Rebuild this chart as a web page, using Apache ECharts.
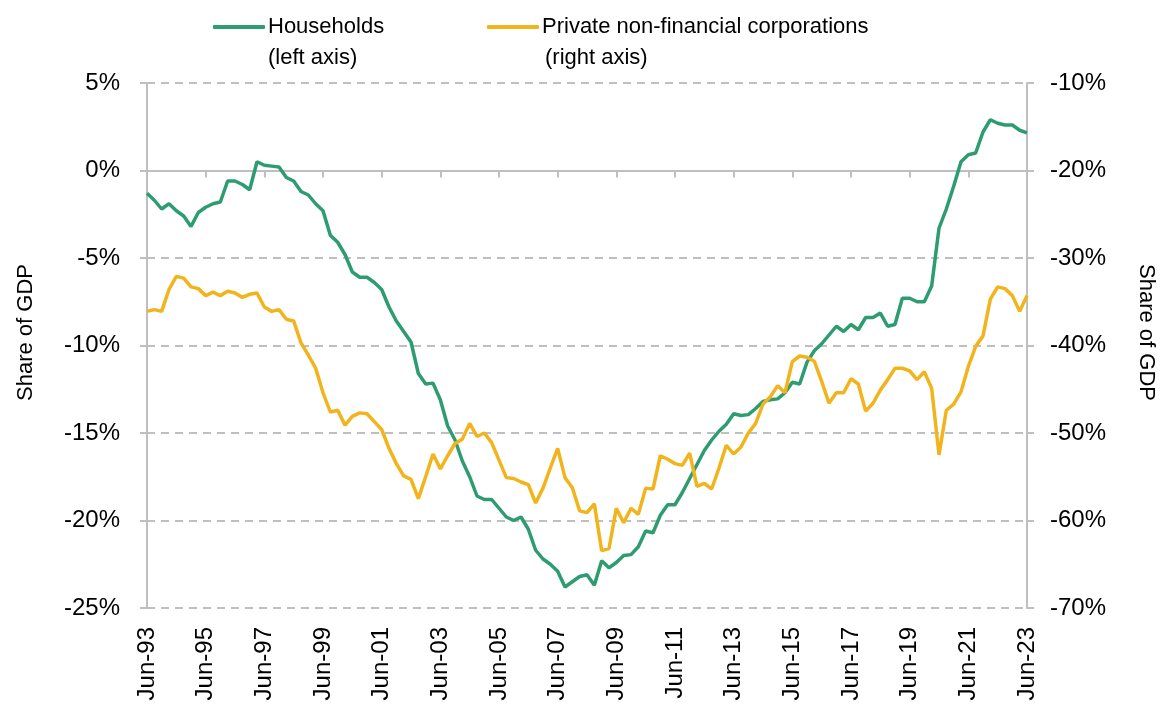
<!DOCTYPE html>
<html>
<head>
<meta charset="utf-8">
<script src="https://cdn.jsdelivr.net/npm/echarts@6/dist/echarts.min.js"></script>
<style>
  * { margin: 0; padding: 0; }
  html, body { background: #fff; }
</style>
</head>
<body>
<div id="chart" style="width: 1162px; height: 704px;"></div>
<script>
  // quarterly, Jun-93 .. Jun-23
  const quarterNames = ['Jun', 'Sep', 'Dec', 'Mar']
  const categories = []
  for (let i = 0; i <= 120; i++) {
    const yr = (1993 + Math.floor((i + 1) / 4)) % 100
    categories.push(quarterNames[i % 4] + '-' + String(yr).padStart(2, '0'))
  }

  // Households, % of GDP (left axis)
  const households = [
    -1.3, -1.7, -2.2, -1.9, -2.3, -2.6, -3.2, -2.4, -2.1, -1.9,
    -1.8, -0.6, -0.6, -0.8, -1.1, 0.5, 0.3, 0.25, 0.2, -0.4,
    -0.6, -1.2, -1.4, -1.9, -2.3, -3.7, -4.1, -4.8, -5.8, -6.1,
    -6.1, -6.4, -6.8, -7.8, -8.6, -9.2, -9.8, -11.6, -12.2, -12.15,
    -13.1, -14.6, -15.4, -16.6, -17.5, -18.6, -18.8, -18.8, -19.3, -19.8,
    -20.0, -19.8, -20.5, -21.7, -22.2, -22.5, -22.9, -23.8, -23.5, -23.2,
    -23.1, -23.7, -22.3, -22.7, -22.4, -22.0, -21.95, -21.5, -20.6, -20.7,
    -19.7, -19.1, -19.1, -18.4, -17.6, -16.8, -16.0, -15.4, -14.9, -14.5,
    -13.9, -14.0, -13.95, -13.6, -13.2, -13.1, -13.05, -12.7, -12.1, -12.2,
    -10.95, -10.3, -9.9, -9.4, -8.9, -9.2, -8.8, -9.1, -8.4, -8.4,
    -8.15, -8.9, -8.8, -7.3, -7.3, -7.5, -7.5, -6.6, -3.3, -2.2,
    -0.9, 0.5, 0.9, 1.0, 2.2, 2.9, 2.7, 2.6, 2.6, 2.3,
    2.15
  ]

  // Private non-financial corporations, % of GDP (right axis)
  const corporations = [
    -36.1, -35.9, -36.1, -33.6, -32.1, -32.3, -33.3, -33.5, -34.3, -33.9,
    -34.3, -33.8, -34.0, -34.5, -34.15, -34.0, -35.6, -36.1, -35.9, -37.0,
    -37.2, -39.7, -41.1, -42.6, -45.4, -47.6, -47.4, -49.1, -48.1, -47.7,
    -47.8, -48.7, -49.6, -51.75, -53.5, -54.9, -55.3, -57.5, -55.0, -52.4,
    -54.1, -52.6, -51.2, -50.7, -48.9, -50.4, -50.0, -51.1, -53.1, -55.1,
    -55.2, -55.6, -55.9, -58.0, -56.3, -54.0, -51.75, -55.1, -56.25, -58.9,
    -59.1, -58.1, -63.45, -63.2, -58.6, -60.25, -58.6, -59.3, -56.3, -56.4,
    -52.6, -53.0, -53.5, -53.7, -52.3, -56.1, -55.75, -56.4, -54.0, -51.4,
    -52.4, -51.6, -50.0, -48.9, -46.7, -45.85, -44.6, -45.4, -41.85, -41.2,
    -41.35, -41.8, -44.1, -46.6, -45.4, -45.4, -43.8, -44.4, -47.5, -46.6,
    -45.1, -43.9, -42.6, -42.6, -42.9, -43.9, -43.0, -44.9, -52.5, -47.4,
    -46.7, -45.3, -42.4, -40.1, -38.9, -34.7, -33.3, -33.5, -34.3, -36.1,
    -34.3
  ]

  const leftTicks = {min: -25, max: 5, step: 5}
  const rightTicks = {min: -70, max: -10, step: 10}

  const green = '#2e9c71'
  const orange = '#f2b41c'
  const grey = '#bfbfbf'
  const font = 'Liberation Sans, Arial, sans-serif'

  let myChart = echarts.init(document.getElementById('chart'))
  myChart.setOption({
    animation: false,
    textStyle: {fontFamily: font},
    grid: {left: 147, right: 135, top: 83, bottom: 96, outerBoundsMode: 'none', containLabel: false},
    legend: [
      {
        data: ['Households'],
        left: 208, top: 11,
        icon: 'roundRect', itemWidth: 52, itemHeight: 4, itemGap: 0,
        textStyle: {fontSize: 22, color: '#000', fontFamily: font, padding: [0, 0, 0, -2]}
      },
      {
        data: ['Private non-financial corporations'],
        left: 482, top: 11,
        icon: 'roundRect', itemWidth: 52, itemHeight: 4, itemGap: 0,
        textStyle: {fontSize: 22, color: '#000', fontFamily: font, padding: [0, 0, 0, -2]}
      }
    ],
    // second line of each legend entry
    graphic: [
      {type: 'text', left: 268, top: 47, style: {text: '(left axis)', fontSize: 22, fill: '#000', fontFamily: font}},
      {type: 'text', left: 545, top: 47, style: {text: '(right axis)', fontSize: 22, fill: '#000', fontFamily: font}}
    ],
    xAxis: [
      {
        // labels along the bottom
        type: 'category',
        data: categories,
        boundaryGap: false,
        position: 'bottom',
        axisLine: {show: false, onZero: false},
        axisTick: {show: false},
        axisLabel: {
          interval: 7, rotate: 90, margin: 19,
          fontSize: 24, color: '#000', fontFamily: font
        }
      },
      {
        // axis line + ticks sitting on 0%
        type: 'category',
        data: categories,
        boundaryGap: false,
        position: 'bottom',
        axisLine: {show: true, onZero: true, onZeroAxisIndex: 0, lineStyle: {color: grey, width: 2}},
        axisTick: {show: true, interval: 7, length: 7, lineStyle: {color: grey, width: 2}},
        axisLabel: {show: false}
      }
    ],
    yAxis: [
      {
        type: 'value',
        min: leftTicks.min, max: leftTicks.max, interval: leftTicks.step,
        name: 'Share of GDP',
        nameLocation: 'middle',
        nameGap: 110,
        nameTextStyle: {fontSize: 22, color: '#000', fontFamily: font, padding: [0, 0, 0, 26]},
        axisLine: {show: true, lineStyle: {color: grey, width: 2}},
        axisTick: {show: true, length: 7, lineStyle: {color: grey, width: 2}},
        axisLabel: {formatter: '{value}%', margin: 27, fontSize: 24, color: '#000', fontFamily: font},
        splitLine: {show: true, lineStyle: {color: grey, width: 2, type: [8, 6]}}
      },
      {
        type: 'value',
        position: 'right',
        min: rightTicks.min, max: rightTicks.max, interval: rightTicks.step,
        name: 'Share of GDP',
        nameLocation: 'middle',
        nameRotate: -90,
        nameGap: 108,
        nameTextStyle: {fontSize: 22, color: '#000', fontFamily: font, padding: [0, 26, 0, 0]},
        axisLine: {show: true, lineStyle: {color: grey, width: 2}},
        axisTick: {show: true, length: 7, lineStyle: {color: grey, width: 2}},
        axisLabel: {formatter: '{value}%', margin: 23, fontSize: 24, color: '#000', fontFamily: font},
        splitLine: {show: false}
      }
    ],
    series: [
      {
        name: 'Households',
        type: 'line',
        xAxisIndex: 0,
        yAxisIndex: 0,
        data: households,
        showSymbol: false,
        color: green,
        lineStyle: {color: green, width: 3.5}
      },
      {
        name: 'Private non-financial corporations',
        type: 'line',
        xAxisIndex: 0,
        yAxisIndex: 1,
        data: corporations,
        showSymbol: false,
        color: orange,
        lineStyle: {color: orange, width: 3.5}
      }
    ]
  })
</script>
</body>
</html>
